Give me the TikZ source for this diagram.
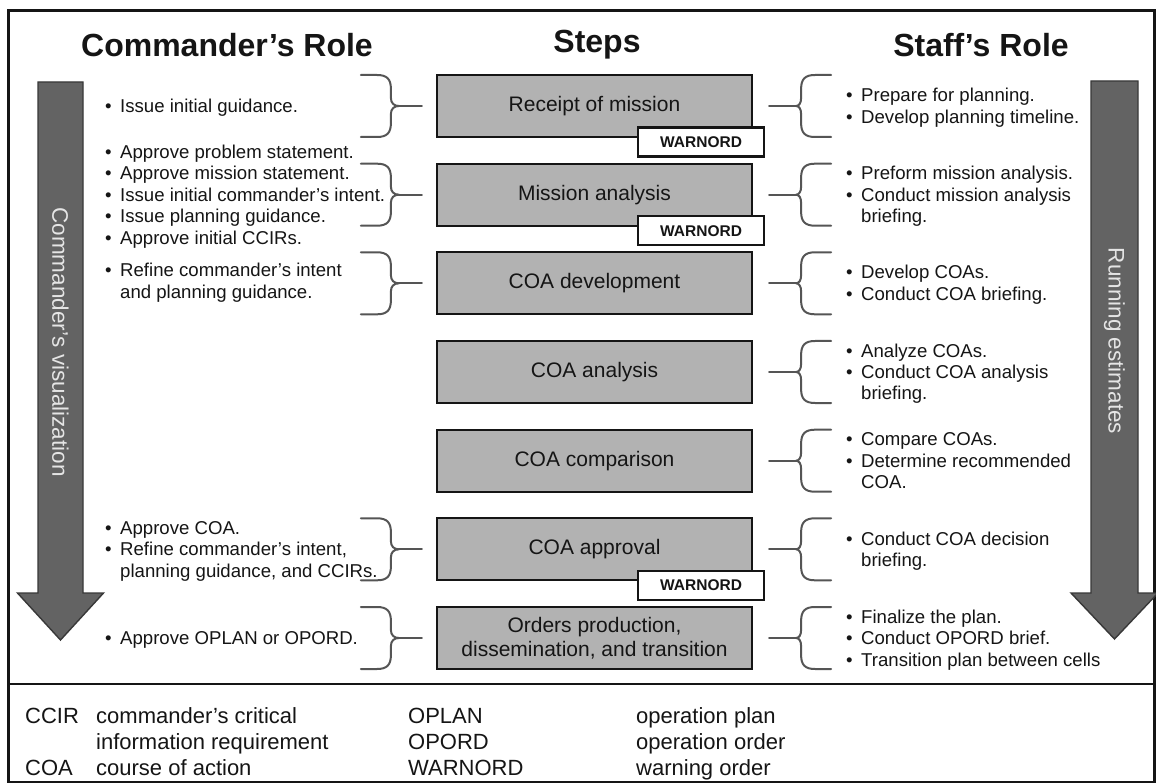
\documentclass[tikz,border=0pt]{standalone}
\usepackage{fontspec}
\setmainfont{Liberation Sans}
\usetikzlibrary{calc}

\definecolor{boxgray}{HTML}{B2B2B2}
\definecolor{arrowgray}{HTML}{636363}
\definecolor{arrowedge}{HTML}{383838}
\definecolor{bracegray}{HTML}{555555}
\definecolor{ink}{HTML}{151515}

\newcommand\fs[2]{\fontsize{#1}{#2}\selectfont}
\newcommand\bul{\makebox[15pt][l]{\textbullet}}
\newcommand\ind{\hspace*{15pt}}
\newcommand\block[1]{\parbox[t]{340pt}{\raggedright #1}}

\tikzset{
  stepbox/.style={draw=ink, line width=2.2pt, fill=boxgray, minimum width=315pt,
    minimum height=62pt, inner sep=0pt, align=center, text=ink, font=\fs{21}{24}},
  warnbox/.style={draw=ink, line width=2.2pt, fill=white, minimum width=126pt,
    minimum height=29pt, inner sep=0pt, text=ink, font=\bfseries\fs{15.5}{18}},
  bracepath/.style={draw=bracegray, line width=2pt, line cap=round, line join=round},
  bulletlist/.style={anchor=base west, inner sep=0pt, text=ink, font=\fs{18.6}{21.5}},
  headline/.style={text=ink, font=\bfseries\fs{32}{36}},
  bigarrow/.style={fill=arrowgray, draw=arrowedge, line width=1.4pt, line join=miter},
  arrowlabel/.style={rotate=-90, text=white!90!black, font=\fs{22.5}{26}},
  legend/.style={anchor=base west, inner sep=0pt, text=ink, font=\fs{22}{26}}
}

% brace opening towards the left-hand text, its stub pointing at the box
\newcommand\leftbrace[1]{%
  \begin{scope}[shift={(#1.west)}]
    \draw[bracepath] (-75,-31) -- (-59,-31)
      .. controls (-49,-31) and (-45,-27) .. (-45,-17) -- (-45,-8)
      .. controls (-45,-3) and (-42,0) .. (-37,0)
      .. controls (-42,0) and (-45,3) .. (-45,8) -- (-45,17)
      .. controls (-45,27) and (-49,31) .. (-59,31) -- (-75,31);
    \draw[bracepath] (-37,0) -- (-14,0);
  \end{scope}}
% brace opening towards the right-hand text
\newcommand\rightbrace[1]{%
  \begin{scope}[shift={(#1.east)}]
    \draw[bracepath] (78,-31) -- (62,-31)
      .. controls (52,-31) and (48,-27) .. (48,-17) -- (48,-8)
      .. controls (48,-3) and (46,0) .. (43,0)
      .. controls (46,0) and (48,3) .. (48,8) -- (48,17)
      .. controls (48,27) and (52,31) .. (62,31) -- (78,31);
    \draw[bracepath] (43,0) -- (16,0);
  \end{scope}}

\begin{document}
\begin{tikzpicture}[x=1pt, y=-1pt]
\useasboundingbox (0,0) rectangle (1156,783);
\fill[white] (0,0) rectangle (1156,783);

% outer frame and legend divider
\draw[ink, line width=2.6pt] (8.5,10.5) rectangle (1154.5,782);
\draw[ink, line width=2.6pt] (8.5,684) -- (1154.5,684);

% column headings
\node[headline] (hcmd)   at (227,45) {Commander’s Role};
\node[headline] (hsteps) at (597,45) {Steps};
\node[headline] (hstaff) at (981,45) {Staff’s Role};

% side arrows
\draw[bigarrow] (38,82) -- (83,82) -- (83,593) -- (103.5,593) -- (60.5,640)
  -- (17.5,593) -- (38,593) -- cycle;
\node[arrowlabel] (cvis) at (60.5,342) {Commander’s visualization};
\draw[bigarrow] (1091,81) -- (1138,81) -- (1138,593) -- (1158,593) -- (1114.5,639)
  -- (1071,593) -- (1091,593) -- cycle;
\node[arrowlabel] (rest) at (1114.5,341) {Running estimates};

% planning steps
\node[stepbox] (s1) at (594.5,106)   {Receipt of mission};
\node[stepbox] (s2) at (594.5,194.7) {Mission analysis};
\node[stepbox] (s3) at (594.5,283.3) {COA development};
\node[stepbox] (s4) at (594.5,372)   {COA analysis};
\node[stepbox] (s5) at (594.5,460.7) {COA comparison};
\node[stepbox] (s6) at (594.5,549.3) {COA approval};
\node[stepbox] (s7) at (594.5,638)   {Orders production,\\dissemination, and transition};

\node[warnbox] (w1) at ($(s1.south east)+(-52,4)$) {WARNORD};
\node[warnbox] (w2) at ($(s2.south east)+(-52,4)$) {WARNORD};
\node[warnbox] (w6) at ($(s6.south east)+(-52,4)$) {WARNORD};

% braces
\leftbrace{s1}
\leftbrace{s2}
\leftbrace{s3}
\leftbrace{s6}
\leftbrace{s7}
\rightbrace{s1}
\rightbrace{s2}
\rightbrace{s3}
\rightbrace{s4}
\rightbrace{s5}
\rightbrace{s6}
\rightbrace{s7}

% commander's role
\node[bulletlist] (c1) at (105,112.5) {\block{\bul Issue initial guidance.}};
\node[bulletlist] (c2) at (105,158.2) {\block{\bul Approve problem statement.\\
  \bul Approve mission statement.\\ \bul Issue initial commander’s intent.\\
  \bul Issue planning guidance.\\ \bul Approve initial CCIRs.}};
\node[bulletlist] (c3) at (105,277) {\block{\bul Refine commander’s intent\\
  \ind and planning guidance.}};
\node[bulletlist] (c6) at (105,534.3) {\block{\bul Approve COA.\\
  \bul Refine commander’s intent,\\ \ind planning guidance, and CCIRs.}};
\node[bulletlist] (c7) at (105,644.5) {\block{\bul Approve OPLAN or OPORD.}};

% staff's role
\node[bulletlist] (t1) at (846,101.75) {\block{\bul Prepare for planning.\\
  \bul Develop planning timeline.}};
\node[bulletlist] (t2) at (846,179.7) {\block{\bul Preform mission analysis.\\
  \bul Conduct mission analysis\\ \ind briefing.}};
\node[bulletlist] (t3) at (846,279) {\block{\bul Develop COAs.\\
  \bul Conduct COA briefing.}};
\node[bulletlist] (t4) at (846,357) {\block{\bul Analyze COAs.\\
  \bul Conduct COA analysis\\ \ind briefing.}};
\node[bulletlist] (t5) at (846,445.7) {\block{\bul Compare COAs.\\
  \bul Determine recommended\\ \ind COA.}};
\node[bulletlist] (t6) at (846,545) {\block{\bul Conduct COA decision\\
  \ind briefing.}};
\node[bulletlist] (t7) at (846,623) {\block{\bul Finalize the plan.\\
  \bul Conduct OPORD brief.\\ \bul Transition plan between cells}};

% abbreviations
\node[legend] (a1) at (25,723) {CCIR};
\node[legend] (d1) at (96,723) {\block{commander’s critical\\information requirement}};
\node[legend] (a2) at (25,775) {COA};
\node[legend] (d2) at (96,775) {course of action};
\node[legend] (a3) at (408,723) {\block{OPLAN\\OPORD\\WARNORD}};
\node[legend] (d3) at (636,723) {\block{operation plan\\operation order\\warning order}};
\end{tikzpicture}
\end{document}
